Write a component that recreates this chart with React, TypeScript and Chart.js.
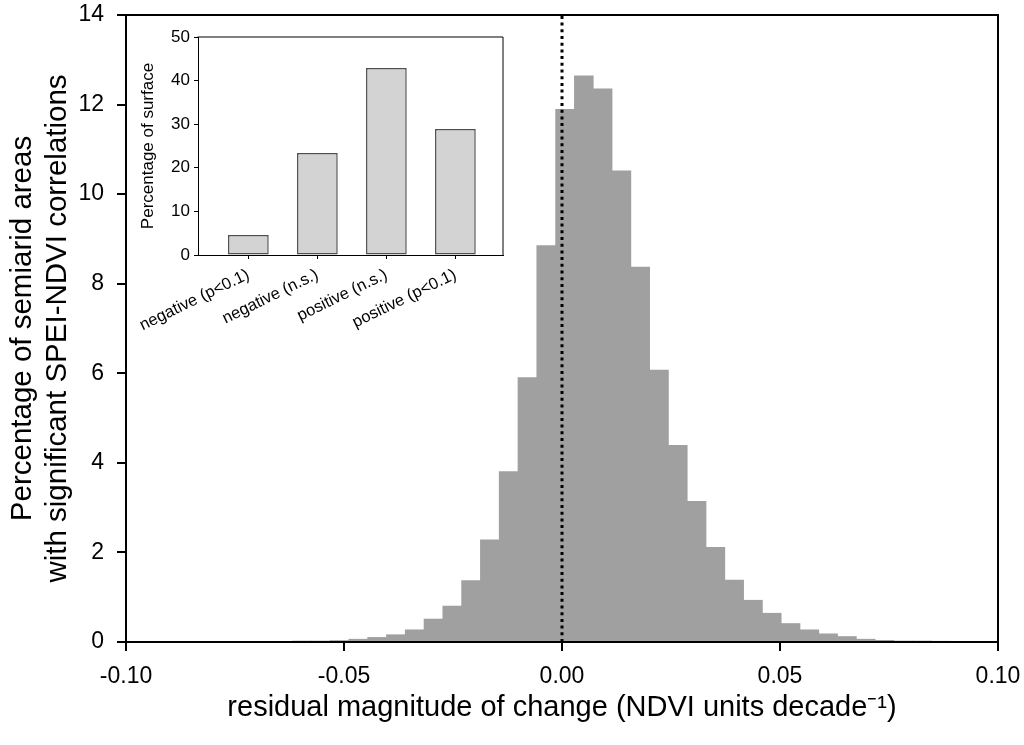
import React, { useEffect, useRef } from "react";
import { Chart, registerables } from "chart.js";

Chart.register(...registerables);

const FONT = "'Liberation Sans', Arial, Helvetica, sans-serif";

// Histogram bin centres (NDVI units decade^-1)
const binCenters = [
  -0.05965, -0.05534, -0.05103, -0.04672, -0.04241, -0.0381, -0.03379,
  -0.02948, -0.02517, -0.02086, -0.01655, -0.01224, -0.00793, -0.00362,
  0.0007, 0.00501, 0.00932, 0.01363, 0.01794, 0.02225, 0.02656, 0.03087,
  0.03518, 0.03949, 0.0438, 0.04811, 0.05242, 0.05673, 0.06104, 0.06535,
  0.06966, 0.07397, 0.07828, 0.08259, 0.0869,
];
// Percentage of semiarid areas per bin
const binPercent = [
  0.03, 0.03, 0.04, 0.07, 0.11, 0.17, 0.28, 0.52, 0.81, 1.38, 2.29, 3.81,
  5.91, 8.86, 11.9, 12.65, 12.36, 10.53, 8.38, 6.08, 4.4, 3.15, 2.12, 1.39,
  0.94, 0.65, 0.42, 0.28, 0.19, 0.13, 0.07, 0.045, 0.03, 0.03, 0.025,
];
const xTickValues = [-0.1, -0.05, 0, 0.05, 0.1];
const yTickValues = [0, 2, 4, 6, 8, 10, 12, 14];
const zeroLine = [0, 14];

const yTitleLines = [
  "Percentage of semiarid areas",
  "with significant SPEI-NDVI correlations",
];
const xTitle = "residual magnitude of change (NDVI units decade\u207B\u00B9)";

// Inset
const insetCategories = [
  "negative (p<0.1)",
  "negative (n.s.)",
  "positive (n.s.)",
  "positive (p<0.1)",
];
const insetValues = [4.6, 23.4, 42.9, 28.9];
const insetYTicks = [0, 10, 20, 30, 40, 50];
const insetTitle = "Percentage of surface";

const framePlugin = (id: string, lw: number) => ({
  id,
  afterDraw(chart: any) {
    const { ctx, chartArea: a } = chart;
    ctx.save();
    ctx.strokeStyle = "#000";
    ctx.lineWidth = lw;
    ctx.beginPath();
    ctx.moveTo(a.left - lw / 2, a.top);
    ctx.lineTo(a.right, a.top);
    ctx.lineTo(a.right, a.bottom + lw / 2);
    ctx.stroke();
    ctx.restore();
  },
});

function fmt(v: number) {
  if (Math.abs(v) < 1e-9) return "0.00";
  return v.toFixed(2);
}

const fixX = (h: number) => (s: any) => {
  s.height = h;
  s.paddingLeft = 0;
  s.paddingRight = 0;
};
const fixY = (w: number) => (s: any) => {
  s.width = w;
  s.paddingTop = 0;
  s.paddingBottom = 0;
};

export default function App() {
  const mainRef = useRef<HTMLCanvasElement | null>(null);
  const insetRef = useRef<HTMLCanvasElement | null>(null);

  useEffect(() => {
    if (!mainRef.current || !insetRef.current) return;

    const main = new Chart(mainRef.current, {
      type: "bar",
      data: {
        datasets: [
          {
            type: "line",
            data: zeroLine.map((y) => ({ x: 0, y })),
            borderColor: "#000",
            borderWidth: 3,
            borderDash: [3, 3.7],
            pointRadius: 0,
            fill: false,
            order: 0,
          } as any,
          {
            type: "bar",
            data: binCenters.map((x, i) => ({ x, y: binPercent[i] })),
            backgroundColor: "#a0a0a0",
            borderWidth: 0,
            barPercentage: 1.04,
            categoryPercentage: 1,
            order: 1,
          } as any,
        ],
      },
      options: {
        responsive: false,
        animation: false,
        layout: { padding: { top: 15, right: 26, left: 0, bottom: 0 } },
        plugins: { legend: { display: false }, tooltip: { enabled: false } },
        scales: {
          x: {
            type: "linear",
            min: -0.1,
            max: 0.1,
            offset: false,
            z: 1,
            afterBuildTicks: (s: any) => {
              s.ticks = xTickValues.map((v) => ({ value: v }));
            },
            ticks: {
              font: { family: FONT, size: 23 },
              color: "#000",
              padding: 12,
              maxRotation: 0,
              autoSkip: false,
              callback: (v: any) => fmt(Number(v)),
            },
            grid: {
              drawOnChartArea: false,
              offset: false,
              tickLength: 9,
              color: "#000",
              lineWidth: 2,
            },
            border: { color: "#000", width: 2 },
            title: {
              display: true,
              text: xTitle,
              font: { family: FONT, size: 29 },
              color: "#000",
              padding: { top: 0, bottom: 20 },
            },
            afterFit: fixX(103),
          } as any,
          y: {
            type: "linear",
            min: 0,
            max: 14,
            z: 1,
            afterBuildTicks: (s: any) => {
              s.ticks = yTickValues.map((v) => ({ value: v }));
            },
            ticks: {
              font: { family: FONT, size: 23 },
              color: "#000",
              padding: 13,
            },
            grid: {
              drawOnChartArea: false,
              tickLength: 9,
              color: "#000",
              lineWidth: 2,
            },
            border: { color: "#000", width: 2 },
            title: {
              display: true,
              text: yTitleLines,
              font: { family: FONT, size: 29.5 },
              color: "#000",
              padding: { top: 5, bottom: 0 },
            },
            afterFit: fixY(126),
          } as any,
        },
      },
      plugins: [framePlugin("mainFrame", 2)],
    });

    const inset = new Chart(insetRef.current, {
      type: "bar",
      data: {
        datasets: [
          {
            data: insetValues.map((y, i) => ({ x: i, y })),
            backgroundColor: "#d3d3d3",
            borderColor: "#505050",
            borderWidth: 1.5,
            borderSkipped: false,
            barPercentage: 0.59,
            categoryPercentage: 1,
          } as any,
        ],
      },
      options: {
        responsive: false,
        animation: false,
        layout: { padding: { top: 17, right: 17, left: 0, bottom: 0 } },
        plugins: { legend: { display: false }, tooltip: { enabled: false } },
        scales: {
          x: {
            type: "linear",
            min: -0.73,
            max: 3.69,
            offset: false,
            z: 1,
            afterBuildTicks: (s: any) => {
              s.ticks = insetCategories.map((_, i) => ({ value: i }));
            },
            ticks: {
              font: { family: FONT, size: 16.5 },
              color: "#000",
              padding: 6,
              autoSkip: false,
              minRotation: 26,
              maxRotation: 26,
              callback: (_v: any, i: number) => insetCategories[i],
            },
            grid: {
              drawOnChartArea: false,
              offset: false,
              tickLength: 4,
              color: "#000",
              lineWidth: 1,
            },
            border: { color: "#000", width: 1 },
            afterFit: fixX(95),
          } as any,
          y: {
            type: "linear",
            min: 0,
            max: 50,
            z: 1,
            afterBuildTicks: (s: any) => {
              s.ticks = insetYTicks.map((v) => ({ value: v }));
            },
            ticks: {
              font: { family: FONT, size: 17 },
              color: "#000",
              padding: 4,
            },
            grid: {
              drawOnChartArea: false,
              tickLength: 4,
              color: "#000",
              lineWidth: 1,
            },
            border: { color: "#000", width: 1 },
            title: {
              display: true,
              text: insetTitle,
              font: { family: FONT, size: 17 },
              color: "#000",
              padding: { top: 8, bottom: 0 },
            },
            afterFit: fixY(68),
          } as any,
        },
      },
      plugins: [framePlugin("insetFrame", 1)],
    });

    return () => {
      main.destroy();
      inset.destroy();
    };
  }, []);

  return (
    <div
      style={{
        position: "fixed",
        left: 0,
        top: 0,
        width: 1024,
        height: 745,
        background: "#fff",
      }}
    >
      <canvas
        ref={mainRef}
        width={1024}
        height={745}
        style={{ position: "absolute", left: 0, top: 0, width: 1024, height: 745 }}
      />
      <canvas
        ref={insetRef}
        width={390}
        height={330}
        style={{ position: "absolute", left: 130, top: 20, width: 390, height: 330 }}
      />
    </div>
  );
}
